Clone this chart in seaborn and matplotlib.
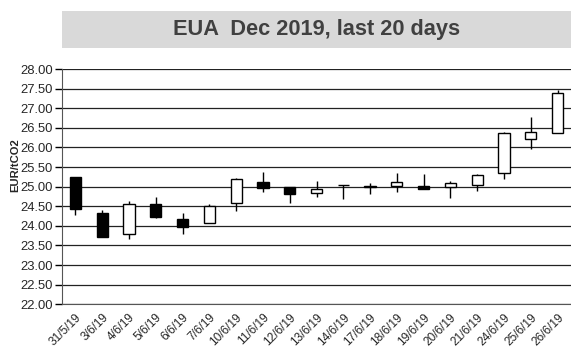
import matplotlib
matplotlib.use("Agg")
import matplotlib.pyplot as plt
import seaborn as sns
from matplotlib.patches import Rectangle
from matplotlib.ticker import FixedLocator, MultipleLocator

# daily prices for the EUA Dec 2019 contract
dates = ["31/5/19", "3/6/19", "4/6/19", "5/6/19", "6/6/19", "7/6/19", "10/6/19",
         "11/6/19", "12/6/19", "13/6/19", "14/6/19", "17/6/19", "18/6/19", "19/6/19",
         "20/6/19", "21/6/19", "24/6/19", "25/6/19", "26/6/19"]
open_px = [25.24, 24.34, 23.79, 24.55, 24.18, 24.08, 24.58, 25.11, 24.98, 24.83,
           25.04, 25.00, 25.03, 25.02, 24.99, 25.04, 25.34, 26.22, 26.36]
close_px = [24.44, 23.72, 24.55, 24.23, 23.96, 24.51, 25.19, 24.96, 24.81, 24.93,
            25.05, 25.01, 25.11, 24.94, 25.09, 25.29, 26.36, 26.39, 27.38]
high_px = [25.24, 24.41, 24.64, 24.73, 24.34, 24.56, 25.21, 25.37, 24.99, 25.15,
           25.05, 25.10, 25.36, 25.32, 25.15, 25.32, 26.40, 26.77, 27.47]
low_px = [24.28, 23.71, 23.66, 24.19, 23.79, 24.07, 24.39, 24.87, 24.58, 24.74,
          24.68, 24.81, 24.86, 24.93, 24.70, 24.90, 25.20, 25.96, 26.36]

sns.set_style("white")
plt.rcParams["font.family"] = ["Liberation Sans", "DejaVu Sans"]

fig = plt.figure(figsize=(5.71, 3.47), dpi=100)
ax = fig.add_axes([0.1086, 0.1231, 0.8914, 0.6778])

# title in a grey box
fig.patches.append(Rectangle((0.1086, 0.8617), 0.8914, 0.1066, transform=fig.transFigure,
                             facecolor="#d9d9d9", edgecolor="none"))
fig.text(0.555, 0.915, "EUA  Dec 2019, last 20 days", ha="center", va="center",
         fontsize=15.7, fontweight="bold", color="#404040")

x = list(range(len(dates)))

# wicks
ax.vlines(x, low_px, high_px, color="black", linewidth=1, zorder=2)

# bodies: white when price rose, black when it fell
bottoms = [min(o, c) for o, c in zip(open_px, close_px)]
heights = [max(abs(c - o), 0.01) for o, c in zip(open_px, close_px)]
colors = ["white" if c >= o else "black" for o, c in zip(open_px, close_px)]
ax.bar(x, heights, bottom=bottoms, width=0.42, color=colors, edgecolor="black",
       linewidth=1, zorder=3)

ax.set_ylim(22, 28)
ax.set_xlim(-0.5, len(dates) - 0.5)
ax.yaxis.set_major_locator(MultipleLocator(0.5))
ax.yaxis.set_major_formatter(matplotlib.ticker.FormatStrFormatter("%.2f"))
ax.grid(axis="y", color="#222222", linewidth=0.9)
ax.set_axisbelow(True)

# tick marks between days, labels under each day
ax.xaxis.set_major_locator(FixedLocator([i + 0.5 for i in x[:-1]]))
ax.xaxis.set_major_formatter(matplotlib.ticker.NullFormatter())
ax.set_xticks(x, minor=True)
ax.set_xticklabels(dates, minor=True, rotation=45, ha="right", rotation_mode="anchor",
                   fontsize=8.6)
ax.tick_params(axis="x", which="minor", length=0, pad=5)
ax.tick_params(axis="x", which="major", direction="inout", length=6, width=1, color="black")
ax.tick_params(axis="y", direction="out", length=5, width=1, color="black", labelsize=9.4,
               pad=1.5, left=True)

sns.despine(ax=ax, top=True, right=True)
ax.spines["left"].set_color("#555555")
ax.spines["bottom"].set_color("#555555")

fig.text(0.026, 1 - 165 / 347, "EUR/tCO2", rotation=90, ha="center", va="center",
         fontsize=8.1, fontweight="bold")

fig.savefig("out.png", dpi=100)
